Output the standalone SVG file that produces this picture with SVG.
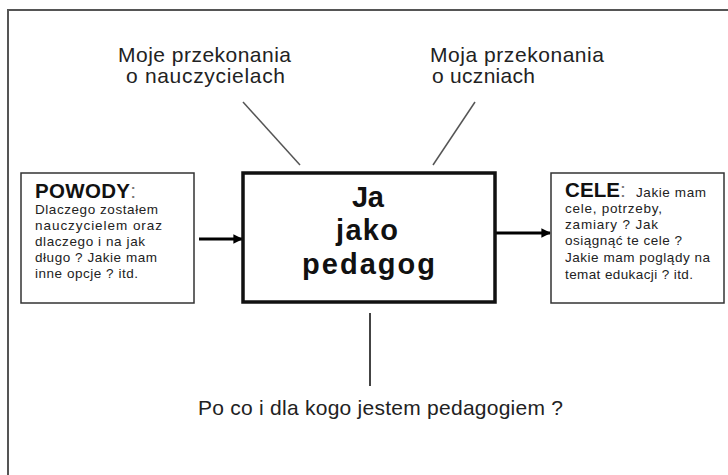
<svg xmlns="http://www.w3.org/2000/svg" width="728" height="475" viewBox="0 0 728 475">
<style>
.t{font-family:"Liberation Sans",Arial,sans-serif;fill:#222}
.big{font-size:21px}
.sm{font-size:13.5px}
.hd{font-size:20.5px;font-weight:bold;fill:#111}
.ctr{font-size:29px;font-weight:bold;fill:#111}
.side{fill:#fff;stroke:#333;stroke-width:1.5}
.conn{stroke:#555;stroke-width:1.5;fill:none}
.arr{stroke:#000;stroke-width:3;fill:none}
</style>
<defs>
<marker id="ah" viewBox="0 0 10 10" refX="9" refY="5" markerWidth="3.2" markerHeight="3.2" orient="auto" markerUnits="strokeWidth">
<path d="M0,0 L10,5 L0,10 z" fill="#000"/>
</marker>
</defs>
<rect width="728" height="475" fill="#fff"/>
<path d="M8,476 V10 H729" fill="none" stroke="#555" stroke-width="2"/>

<g id="connectors">
<line class="conn" x1="243" y1="102" x2="300" y2="165"/>
<line class="conn" x1="475" y1="102" x2="433" y2="165"/>
<line x1="370" y1="313" x2="370" y2="386" stroke="#444" stroke-width="2"/>
<line class="arr" x1="199" y1="239" x2="242" y2="239" marker-end="url(#ah)"/>
<line class="arr" x1="496" y1="233" x2="550" y2="233" marker-end="url(#ah)"/>
</g>

<g id="label-nauczyciele">
<text class="t big" x="118" y="62" textLength="173">Moje przekonania</text>
<text class="t big" x="126" y="83" textLength="159">o nauczycielach</text>
</g>

<g id="label-uczniowie">
<text class="t big" x="430" y="62" textLength="174">Moja przekonania</text>
<text class="t big" x="432" y="83" textLength="103">o uczniach</text>
</g>

<g id="powody">
<rect class="side" x="21" y="173" width="173" height="130"/>
<text class="t" x="35" y="198"><tspan class="hd" textLength="95">POWODY</tspan><tspan class="big" fill="#777">:</tspan></text>
<text class="t sm" x="35" y="214" textLength="123">Dlaczego zostałem</text>
<text class="t sm" x="35" y="230" textLength="127">nauczycielem  oraz</text>
<text class="t sm" x="35" y="246" textLength="110">dlaczego i na jak</text>
<text class="t sm" x="35" y="262" textLength="122">długo ? Jakie mam</text>
<text class="t sm" x="35" y="278" textLength="103">inne opcje ? itd.</text>
</g>

<g id="ja">
<rect x="243" y="173" width="252" height="129" fill="#fff" stroke="#111" stroke-width="3.5"/>
<text class="t ctr" x="368" y="207" text-anchor="middle" textLength="32">Ja</text>
<text class="t ctr" x="367" y="240" text-anchor="middle" textLength="62">jako</text>
<text class="t ctr" x="368.5" y="274" text-anchor="middle" textLength="133">pedagog</text>
</g>

<g id="cele">
<rect class="side" x="551" y="173" width="173" height="130"/>
<text class="t" x="565" y="197"><tspan class="hd" textLength="55">CELE</tspan><tspan class="big" fill="#777">:</tspan><tspan class="sm" x="636" textLength="70">Jakie mam</tspan></text>
<text class="t sm" x="565" y="213" textLength="97">cele, potrzeby,</text>
<text class="t sm" x="565" y="229" textLength="93">zamiary ?  Jak</text>
<text class="t sm" x="565" y="245" textLength="117">osiągnąć te cele ?</text>
<text class="t sm" x="565" y="262" textLength="145">Jakie mam poglądy na</text>
<text class="t sm" x="565" y="279" textLength="128">temat edukacji ? itd.</text>
</g>

<g id="label-pytanie">
<text class="t big" x="198" y="415" textLength="365">Po co i dla kogo jestem pedagogiem ?</text>
</g>
</svg>
